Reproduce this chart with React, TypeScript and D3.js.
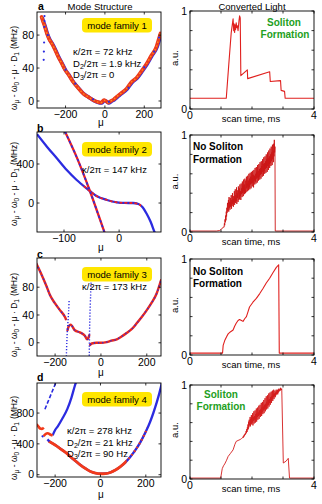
import React from 'react';
import * as d3 from 'd3';

const FONT = "'Liberation Sans', Arial, Helvetica, sans-serif";

// ---------------- Data ----------------
// Panel a — mode family 1 (μ, MHz)
const aMu = [-322, -315, -305, -295, -283, -270, -253, -238, -220, -203, -185, -161, -140, -110, -85, -59, -40, -20, -5, 5, 17, 30, 45, 59, 80, 110, 135, 160, 185, 211, 235, 262, 272, 282];
const aVal = [102, 97, 90, 82, 75, 70, 62, 54, 46, 38, 32, 23, 17, 9, 5, 1, -1, -2, 1, 0, -2, 0, 2, 5, 9, 15, 23, 28, 36, 45, 55, 66, 74, 82];
const aBlueMu = [-307, -307, -308, -309, -310, -311, -290, -200, -150, -60, 20, 120, 200, 250, 275];
const aBlueVal = [103, 97, 90, 71, 60, 50, 80, 38, 21, 2, -1, 16, 41, 60, 77];

// Panel b — mode family 2
const bMu = [-149, -131, -113, -95, -77, -59, -53, -41, -22, -4, 10, 25, 35, 43, 50, 57, 64, 70];
const bVal = [705, 577, 458, 338, 236, 150, 123, 72, 31, 7, 1, 0, -10, -45, -110, -190, -294, -380];
const bRedRange = [-67, 40];
const bSteepMu = [-98, -77, -53, -27, -24];
const bSteepVal = [730, 470, 123, -294, -340];

// Panel c — mode family 3
const cSeg1Mu = [-282, -259, -237, -223, -201, -179, -157, -153];
const cSeg1Val = [114, 98, 81, 69, 57, 47, 37, 34];
const cSeg2Mu = [-146, -140, -132, -114, -92, -70, -60, -55, -51];
const cSeg2Val = [18, 24, 26, 18, 15, 10, 5, 7, 11];
const cSeg3Mu = [-47, -40, -19, 0, 25, 45, 69, 90, 112, 135, 156, 178, 200, 222, 243, 262];
const cSeg3Val = [-3, -1, 0, 0, 1, 3, 5, 9, 14, 20, 28, 37, 47, 58, 71, 90];
const cStreak1Mu = [-139, -141, -144, -147, -149, -151];
const cStreak1Val = [60, 45, 30, 15, 0, -19];
const cStreak2Mu = [-41, -43, -45, -48, -50, -51];
const cStreak2Val = [104, 85, 69, 40, 10, -19];

// Panel d — mode family 4
const dMainMu = [-226, -200, -175, -150, -131, -110, -88, -66, -44, -22, 0, 22, 44, 66, 88, 110, 131, 153, 175, 197, 219, 233, 248, 260, 272];
const dMainVal = [430, 385, 333, 280, 229, 178, 125, 80, 41, 20, 12, 15, 29, 60, 104, 160, 229, 315, 416, 540, 686, 800, 937, 1060, 1200];
const dUpperMu = [-211, -200, -189, -168, -146, -128, -114, -108];
const dUpperVal = [510, 580, 625, 729, 854, 1000, 1145, 1200];
const dBumpMu = [-251, -242, -233, -222, -211];
const dBumpVal = [500, 528, 538, 522, 508];
const dHookMu = [-284, -275, -266, -258, -250];
const dHookVal = [654, 630, 600, 595, 612];
const dBlueBitMu = [-234, -225];
const dBlueBitVal = [458, 430];
const dBlueBit2Mu = [-258, -253];
const dBlueBit2Val = [490, 505];
const dSteepMu = [-245, -220, -196];
const dSteepVal = [850, 1030, 1200];

// Right panels — converted light (ms, a.u.)
const raT = [0, 1.17, 1.25, 1.33, 1.39, 1.41, 1.42, 1.44, 1.45, 1.47, 1.49, 1.51, 1.53, 1.55, 1.58, 1.60, 1.62, 1.64, 1.85, 1.86, 2.57, 2.59, 2.92, 2.94, 3.05, 3.07, 4];
const raV = [0.11, 0.11, 0.45, 0.78, 0.92, 0.80, 0.87, 0.78, 0.86, 0.81, 0.88, 0.83, 0.85, 0.80, 0.90, 0.95, 0.93, 0.34, 0.40, 0.31, 0.38, 0.28, 0.29, 0.19, 0.18, 0.11, 0.11];

const rbPreT = [0, 0.85, 0.95, 1.02, 1.07];
const rbPreV = [0.01, 0.01, 0.015, 0.03, 0.05];
const rbNoiseStart = 1.10;
const rbNoiseStep = 0.01;
const rbNoise = [
  0.05, 0.09, 0.07, 0.13, 0.10, 0.17, 0.12, 0.21, 0.16, 0.25,
  0.20, 0.30, 0.22, 0.27, 0.33, 0.21, 0.36, 0.25, 0.31, 0.23,
  0.35, 0.26, 0.30, 0.38, 0.24, 0.33, 0.27, 0.40, 0.29, 0.34,
  0.26, 0.37, 0.31, 0.42, 0.28, 0.35, 0.44, 0.30, 0.38, 0.32,
  0.46, 0.29, 0.40, 0.35, 0.43, 0.31, 0.47, 0.36, 0.33, 0.45,
  0.34, 0.49, 0.37, 0.42, 0.33, 0.50, 0.39, 0.45, 0.36, 0.52,
  0.40, 0.47, 0.37, 0.54, 0.42, 0.49, 0.39, 0.55, 0.44, 0.40,
  0.53, 0.41, 0.57, 0.45, 0.50, 0.42, 0.58, 0.47, 0.53, 0.43,
  0.60, 0.46, 0.55, 0.44, 0.61, 0.49, 0.57, 0.45, 0.62, 0.50,
  0.56, 0.47, 0.63, 0.51, 0.59, 0.46, 0.64, 0.53, 0.58, 0.49,
  0.66, 0.52, 0.60, 0.50, 0.67, 0.55, 0.62, 0.51, 0.69, 0.56,
  0.63, 0.53, 0.70, 0.57, 0.65, 0.54, 0.72, 0.59, 0.66, 0.55,
  0.73, 0.60, 0.68, 0.57, 0.75, 0.62, 0.70, 0.58, 0.77, 0.63,
  0.71, 0.60, 0.78, 0.65, 0.73, 0.61, 0.80, 0.66, 0.75, 0.62,
  0.82, 0.68, 0.76, 0.64, 0.84, 0.70, 0.78, 0.66, 0.86, 0.71,
  0.80, 0.68, 0.88, 0.73, 0.82, 0.69, 0.90, 0.75, 0.84, 0.72,
  0.91, 0.78, 0.95, 0.82, 0.88,
];
const rbPostT = [2.75, 4];
const rbPostV = [0.01, 0.01];

const rcT = [0, 1.05, 1.07, 1.12, 1.18, 1.23, 1.30, 1.39, 1.44, 1.49, 1.55, 1.60, 1.66, 1.71, 1.77, 1.82, 1.87, 1.92, 2.03, 2.14, 2.25, 2.35, 2.46, 2.57, 2.68, 2.78, 2.86, 2.88, 4];
const rcV = [0.02, 0.02, 0.10, 0.15, 0.19, 0.22, 0.24, 0.26, 0.30, 0.33, 0.36, 0.37, 0.36, 0.35, 0.38, 0.40, 0.45, 0.50, 0.55, 0.59, 0.64, 0.69, 0.75, 0.80, 0.86, 0.91, 0.94, 0.02, 0.02];

const rdPreT = [0, 0.99, 1.04, 1.08, 1.12, 1.18, 1.23, 1.30, 1.39, 1.45, 1.49, 1.55, 1.62, 1.66];
const rdPreV = [0.01, 0.01, 0.11, 0.14, 0.16, 0.20, 0.24, 0.27, 0.31, 0.37, 0.40, 0.41, 0.42, 0.43];
const rdNoiseStart = 1.70;
const rdNoiseStep = 0.01;
const rdNoise = [
  0.44, 0.45, 0.44, 0.46, 0.45, 0.47, 0.46, 0.48, 0.47, 0.49,
  0.48, 0.51, 0.49, 0.53, 0.50, 0.55, 0.52, 0.58, 0.53, 0.61,
  0.55, 0.63, 0.57, 0.60, 0.66, 0.56, 0.64, 0.59, 0.68, 0.58,
  0.65, 0.60, 0.70, 0.57, 0.66, 0.62, 0.72, 0.59, 0.67, 0.63,
  0.73, 0.60, 0.69, 0.64, 0.75, 0.61, 0.70, 0.66, 0.76, 0.63,
  0.71, 0.67, 0.78, 0.64, 0.73, 0.68, 0.79, 0.66, 0.74, 0.70,
  0.81, 0.67, 0.76, 0.71, 0.82, 0.69, 0.77, 0.73, 0.84, 0.70,
  0.79, 0.74, 0.86, 0.72, 0.80, 0.76, 0.88, 0.74, 0.82, 0.78,
  0.89, 0.75, 0.84, 0.79, 0.91, 0.77, 0.85, 0.81, 0.92, 0.79,
  0.87, 0.83, 0.93, 0.81, 0.88, 0.85, 0.94, 0.83, 0.90, 0.87,
  0.95, 0.85, 0.91, 0.88, 0.94, 0.87, 0.92, 0.89, 0.95, 0.90,
  0.93, 0.91, 0.95, 0.90, 0.94, 0.92, 0.96, 0.93, 0.95, 0.94,
  0.96, 0.94, 0.97, 0.95, 0.96, 0.95, 0.96,
];
const rdPostT = [3.01, 3.10, 3.17, 3.21, 4];
const rdPostV = [0.17, 0.19, 0.22, 0.01, 0.01];

// Axis ticks / labels
const aXTicks = [-200, 0, 200];
const aYTicks = [0, 40, 80];
const bXTicks = [-100, 0];
const bYTicks = [0, 400];
const cXTicks = [-200, 0, 200];
const cYTicks = [0, 40, 80];
const dXTicks = [-200, 0, 200];
const dYTicks = [0, 400, 800];
const rXTicks = [0, 1, 2, 3, 4];
const rXLabels = [0, 4];
const rYTicks = [0, 0.2, 0.4, 0.6, 0.8, 1];
const rYLabels = [0, 1];

const familyLabels = ['mode family 1', 'mode family 2', 'mode family 3', 'mode family 4'];

// ---------------- Layout ----------------
const LX: [number, number] = [37, 161];
const RX: [number, number] = [190, 314];
const leftRows: [number, number][] = [[12, 108], [132, 232], [258, 356], [383, 477]];
const rightRows: [number, number][] = [[11, 109], [135, 232], [259, 355], [385, 479]];

const BLUE = '#2b2be0';
const RED = '#ee3a1c';
const ORANGE = '#ff8a1e';
const TRACE = '#e0201e';
const GREEN = '#22a022';
const YELLOW = '#ffe600';

type Sc = d3.ScaleLinear<number, number>;

function pathOf(xs: number[], ys: number[], x: Sc, y: Sc, curve: d3.CurveFactory = d3.curveLinear) {
  const pts = xs.map((v, i) => [v, ys[i]] as [number, number]);
  return d3.line<[number, number]>().x(d => x(d[0])).y(d => y(d[1])).curve(curve)(pts) || '';
}

function scales(fx: [number, number], fy: [number, number], xd: number[], yd: number[]) {
  const x = d3.scaleLinear().domain(xd).range(fx);
  const y = d3.scaleLinear().domain(yd).range([fy[1], fy[0]]);
  return { x, y };
}

function fmt(v: number) {
  return v < 0 ? '\u2212' + Math.abs(v) : String(v);
}

function Frame({ x, y, xTicks, yTicks, xLabels, yLabels, fs = 10.5 }: any) {
  const [x0, x1] = x.range();
  const [y1, y0] = y.range();
  const tl = 2.5;
  return (
    <g>
      <rect x={x0} y={y0} width={x1 - x0} height={y1 - y0} fill="none" stroke="#000" strokeWidth={0.9} />
      {xTicks.map((t: number) => (
        <g key={'xt' + t}>
          <line x1={x(t)} x2={x(t)} y1={y1} y2={y1 - tl} stroke="#000" strokeWidth={0.8} />
          <line x1={x(t)} x2={x(t)} y1={y0} y2={y0 + tl} stroke="#000" strokeWidth={0.8} />
        </g>
      ))}
      {yTicks.map((t: number) => (
        <g key={'yt' + t}>
          <line x1={x0} x2={x0 + tl} y1={y(t)} y2={y(t)} stroke="#000" strokeWidth={0.8} />
          <line x1={x1} x2={x1 - tl} y1={y(t)} y2={y(t)} stroke="#000" strokeWidth={0.8} />
        </g>
      ))}
      {xLabels.map((t: number) => (
        <text key={'xl' + t} x={x(t)} y={y1 + 9.5} fontSize={fs} textAnchor="middle">{fmt(t)}</text>
      ))}
      {yLabels.map((t: number) => (
        <text key={'yl' + t} x={x0 - 3} y={y(t) + 3.7} fontSize={fs} textAnchor="end">{fmt(t)}</text>
      ))}
    </g>
  );
}

function YLabel({ cx, cy }: { cx: number; cy: number }) {
  return (
    <text transform={`translate(${cx},${cy}) rotate(-90)`} textAnchor="middle" fontSize={8.5}>
      <tspan>ω</tspan>
      <tspan fontSize={6.5} dy={1.8}>μ</tspan>
      <tspan dy={-1.8}> - ω</tspan>
      <tspan fontSize={6.5} dy={1.8}>0</tspan>
      <tspan dy={-1.8}> - μ · D</tspan>
      <tspan fontSize={6.5} dy={1.8}>1</tspan>
      <tspan dy={-1.8} dx={3}>(MHz)</tspan>
    </text>
  );
}

function FamilyBox({ y0, label }: { y0: number; label: string }) {
  return (
    <g>
      <rect x={82} y={y0} width={70} height={14.5} rx={4} fill={YELLOW} />
      <text x={117} y={y0 + 10.5} fontSize={9.6} textAnchor="middle">{label}</text>
    </g>
  );
}

function Sub({ base, sub, rest, x, y }: { base: string; sub: string; rest: string; x: number; y: number }) {
  return (
    <text x={x} y={y} fontSize={9.5}>
      <tspan>{base}</tspan>
      <tspan fontSize={7} dy={2}>{sub}</tspan>
      <tspan dy={-2}>{rest}</tspan>
    </text>
  );
}

function Dots({ xs, ys, x, y, color, r = 1.1 }: any) {
  return (
    <g>
      {xs.map((v: number, i: number) => (
        <circle key={i} cx={x(v)} cy={y(ys[i])} r={r} fill={color} />
      ))}
    </g>
  );
}

function LeftA() {
  const { x, y } = scales(LX, leftRows[0], [-345, 285], [-8.5, 108]);
  return (
    <g>
      <defs><clipPath id="ca"><rect x={LX[0]} y={leftRows[0][0]} width={LX[1] - LX[0]} height={leftRows[0][1] - leftRows[0][0]} /></clipPath></defs>
      <g clipPath="url(#ca)">
        <path d={pathOf(aMu, aVal, x, y, d3.curveMonotoneX)} fill="none" stroke={BLUE} strokeWidth={3.6} transform="translate(0.6,0.4)" />
        <path d={pathOf(aMu, aVal, x, y, d3.curveMonotoneX)} fill="none" stroke={RED} strokeWidth={3.6} strokeLinecap="round" />
        <path d={pathOf(aMu, aVal, x, y, d3.curveMonotoneX)} fill="none" stroke={ORANGE} strokeWidth={1.4} strokeDasharray="1.5 2.5" />
        <Dots xs={aBlueMu} ys={aBlueVal} x={x} y={y} color={BLUE} r={1.1} />
      </g>
      <Frame x={x} y={y} xTicks={aXTicks} yTicks={aYTicks} xLabels={aXTicks} yLabels={aYTicks} />
      <FamilyBox y0={18} label={familyLabels[0]} />
      <text x={73} y={55} fontSize={9.5}>κ/2π = 72 kHz</text>
      <Sub base="D" sub="2" rest="/2π = 1.9 kHz" x={73} y={66.5} />
      <Sub base="D" sub="3" rest="/2π = 0" x={73} y={78} />
      <text x={38} y={9.5} fontSize={10.5} fontWeight="bold">a</text>
      <text x={101} y={126} fontSize={10} textAnchor="middle">μ</text>
      <YLabel cx={17} cy={68} />
    </g>
  );
}

function LeftB() {
  const { x, y } = scales(LX, leftRows[1], [-149, 76], [-297, 728]);
  const [fy0, fy1] = leftRows[1];
  return (
    <g>
      <defs>
        <clipPath id="cb"><rect x={LX[0]} y={fy0} width={LX[1] - LX[0]} height={fy1 - fy0} /></clipPath>
        <clipPath id="cbr"><rect x={x(bRedRange[0])} y={fy0} width={x(bRedRange[1]) - x(bRedRange[0])} height={fy1 - fy0} /></clipPath>
      </defs>
      <g clipPath="url(#cb)">
        <path d={pathOf(bMu, bVal, x, y, d3.curveMonotoneX)} fill="none" stroke={BLUE} strokeWidth={2.3} />
        <g clipPath="url(#cbr)">
          <path d={pathOf(bMu, bVal, x, y, d3.curveMonotoneX)} fill="none" stroke="#f02020" strokeWidth={1.8} strokeDasharray="3 2" />
        </g>
        <path d={pathOf(bSteepMu, bSteepVal, x, y, d3.curveCatmullRom)} fill="none" stroke="#f02020" strokeWidth={2.3} />
        <path d={pathOf(bSteepMu, bSteepVal, x, y, d3.curveCatmullRom)} fill="none" stroke={BLUE} strokeWidth={1.6} strokeDasharray="2.5 2.5" />
      </g>
      <Frame x={x} y={y} xTicks={bXTicks} yTicks={bYTicks} xLabels={bXTicks} yLabels={bYTicks} />
      <FamilyBox y0={142} label={familyLabels[1]} />
      <text x={82} y={173} fontSize={9.5}>κ/2π = 147 kHz</text>
      <text x={37} y={132} fontSize={10.5} fontWeight="bold">b</text>
      <text x={101} y={251} fontSize={10} textAnchor="middle">μ</text>
      <YLabel cx={17} cy={184} />
    </g>
  );
}

function LeftC() {
  const { x, y } = scales(LX, leftRows[2], [-279, 262], [-19, 122]);
  const [fy0, fy1] = leftRows[2];
  const segs: [number[], number[]][] = [[cSeg1Mu, cSeg1Val], [cSeg2Mu, cSeg2Val], [cSeg3Mu, cSeg3Val]];
  return (
    <g>
      <defs><clipPath id="cc"><rect x={LX[0]} y={fy0} width={LX[1] - LX[0]} height={fy1 - fy0} /></clipPath></defs>
      <g clipPath="url(#cc)">
        {segs.map(([m, v], i) => (
          <g key={i}>
            <path d={pathOf(m, v, x, y, d3.curveMonotoneX)} fill="none" stroke="#e82820" strokeWidth={2.4} strokeLinecap="round" />
            <path d={pathOf(m, v, x, y, d3.curveMonotoneX)} fill="none" stroke={BLUE} strokeWidth={1.5} strokeDasharray="1.2 3" />
          </g>
        ))}
        <path d={pathOf(cStreak1Mu, cStreak1Val, x, y, d3.curveCatmullRom)} fill="none" stroke={BLUE} strokeWidth={1.4} strokeDasharray="1.2 1.8" />
        <path d={pathOf(cStreak2Mu, cStreak2Val, x, y, d3.curveCatmullRom)} fill="none" stroke={BLUE} strokeWidth={1.4} strokeDasharray="1.2 1.8" />
      </g>
      <Frame x={x} y={y} xTicks={cXTicks} yTicks={cYTicks} xLabels={cXTicks} yLabels={cYTicks} />
      <FamilyBox y0={267} label={familyLabels[2]} />
      <text x={82} y={290} fontSize={9.5}>κ/2π = 173 kHz</text>
      <text x={37} y={258} fontSize={10.5} fontWeight="bold">c</text>
      <text x={101} y={376} fontSize={10} textAnchor="middle">μ</text>
      <YLabel cx={17} cy={315} />
    </g>
  );
}

function LeftD() {
  const { x, y } = scales(LX, leftRows[3], [-280, 267], [-30, 1190]);
  const [fy0, fy1] = leftRows[3];
  return (
    <g>
      <defs>
        <clipPath id="cd"><rect x={LX[0]} y={fy0} width={LX[1] - LX[0]} height={fy1 - fy0} /></clipPath>
        <clipPath id="cdr"><rect x={LX[0]} y={fy0} width={x(115) - LX[0]} height={fy1 - fy0} /></clipPath>
        <clipPath id="cdm"><rect x={x(115)} y={fy0} width={x(205) - x(115)} height={fy1 - fy0} /></clipPath>
      </defs>
      <g clipPath="url(#cd)">
        <path d={pathOf(dMainMu, dMainVal, x, y, d3.curveMonotoneX)} fill="none" stroke={BLUE} strokeWidth={2.4} />
        <g clipPath="url(#cdr)">
          <path d={pathOf(dMainMu, dMainVal, x, y, d3.curveMonotoneX)} fill="none" stroke="#f23a1a" strokeWidth={2.8} strokeLinecap="round" />
        </g>
        <g clipPath="url(#cdm)">
          <path d={pathOf(dMainMu, dMainVal, x, y, d3.curveMonotoneX)} fill="none" stroke="#f23a1a" strokeWidth={2.2} strokeDasharray="1.5 3" />
        </g>
        <path d={pathOf(dUpperMu, dUpperVal, x, y, d3.curveMonotoneX)} fill="none" stroke={BLUE} strokeWidth={2.3} />
        <path d={pathOf(dBumpMu, dBumpVal, x, y, d3.curveMonotoneX)} fill="none" stroke="#f23a1a" strokeWidth={2.6} />
        <path d={pathOf(dHookMu, dHookVal, x, y, d3.curveMonotoneX)} fill="none" stroke="#f23a1a" strokeWidth={2.6} />
        <path d={pathOf(dBlueBitMu, dBlueBitVal, x, y)} fill="none" stroke={BLUE} strokeWidth={2.3} />
        <path d={pathOf(dBlueBit2Mu, dBlueBit2Val, x, y)} fill="none" stroke={BLUE} strokeWidth={2.3} />
        <path d={pathOf(dSteepMu, dSteepVal, x, y)} fill="none" stroke={BLUE} strokeWidth={1.6} strokeDasharray="4 2" />
      </g>
      <Frame x={x} y={y} xTicks={dXTicks} yTicks={dYTicks} xLabels={dXTicks} yLabels={dYTicks} />
      <FamilyBox y0={392} label={familyLabels[3]} />
      <text x={67} y={434} fontSize={9.5}>κ/2π = 278 kHz</text>
      <Sub base="D" sub="2" rest="/2π = 21 kHz" x={67} y={445.5} />
      <Sub base="D" sub="3" rest="/2π = 90 Hz" x={67} y={457} />
      <text x={37} y={381} fontSize={10.5} fontWeight="bold">d</text>
      <text x={101} y={498} fontSize={10} textAnchor="middle">μ</text>
      <YLabel cx={17} cy={438} />
    </g>
  );
}

function RightPanel({ row, traces, color, width = 1 }: { row: number; traces: [number[], number[]][]; color: string; width?: number }) {
  const { x, y } = scales(RX, rightRows[row], [0, 4], [0, 1]);
  const [fy0, fy1] = rightRows[row];
  return (
    <g>
      <defs><clipPath id={'cr' + row}><rect x={RX[0]} y={fy0} width={RX[1] - RX[0]} height={fy1 - fy0} /></clipPath></defs>
      <g clipPath={`url(#cr${row})`}>
        {traces.map(([t, v], i) => (
          <path key={i} d={pathOf(t, v, x, y)} fill="none" stroke={color} strokeWidth={width} strokeLinejoin="round" />
        ))}
      </g>
      <Frame x={x} y={y} xTicks={rXTicks} yTicks={rYTicks} xLabels={rXLabels} yLabels={rYLabels} fs={10.5} />
      <text x={251} y={fy1 + 13} fontSize={9.5} textAnchor="middle">scan time, ms</text>
      <text transform={`translate(178,${(fy0 + fy1) / 2 - 2}) rotate(-90)`} fontSize={9.5} textAnchor="middle">a.u.</text>
    </g>
  );
}

function noiseSeries(start: number, step: number, vals: number[]): [number[], number[]] {
  return [vals.map((_, i) => start + i * step), vals];
}

export default function App() {
  const rb = noiseSeries(rbNoiseStart, rbNoiseStep, rbNoise);
  const rd = noiseSeries(rdNoiseStart, rdNoiseStep, rdNoise);
  const rbAll: [number[], number[]] = [[...rbPreT, ...rb[0], ...rbPostT], [...rbPreV, ...rb[1], ...rbPostV]];
  const rdAll: [number[], number[]] = [[...rdPreT, ...rd[0], ...rdPostT], [...rdPreV, ...rd[1], ...rdPostV]];
  return (
    <svg width={322} height={504} style={{ position: 'absolute', left: 0, top: 0, background: '#fff' }} fontFamily={FONT}>
      <rect x={0} y={0} width={322} height={504} fill="#fff" />
      <text x={100} y={9.5} fontSize={9.5} textAnchor="middle">Mode Structure</text>
      <text x={252} y={9.5} fontSize={9.5} textAnchor="middle">Converted Light</text>
      <LeftA />
      <LeftB />
      <LeftC />
      <LeftD />
      <RightPanel row={0} traces={[[raT, raV]]} color={TRACE} width={1.1} />
      <RightPanel row={1} traces={[rbAll]} color="#cc1515" width={0.9} />
      <RightPanel row={2} traces={[[rcT, rcV]]} color={TRACE} width={1.1} />
      <RightPanel row={3} traces={[rdAll]} color="#d41c1c" width={0.9} />
      <text x={284} y={26} fontSize={10} fontWeight="bold" fill={GREEN} textAnchor="middle">Soliton</text>
      <text x={285} y={38} fontSize={10} fontWeight="bold" fill={GREEN} textAnchor="middle">Formation</text>
      <text x={193} y={150} fontSize={10} fontWeight="bold">No Soliton</text>
      <text x={193} y={163} fontSize={10} fontWeight="bold">Formation</text>
      <text x={193} y={275} fontSize={10} fontWeight="bold">No Soliton</text>
      <text x={193} y={287} fontSize={10} fontWeight="bold">Formation</text>
      <text x={221} y={398} fontSize={10} fontWeight="bold" fill={GREEN} textAnchor="middle">Soliton</text>
      <text x={221} y={410} fontSize={10} fontWeight="bold" fill={GREEN} textAnchor="middle">Formation</text>
    </svg>
  );
}
